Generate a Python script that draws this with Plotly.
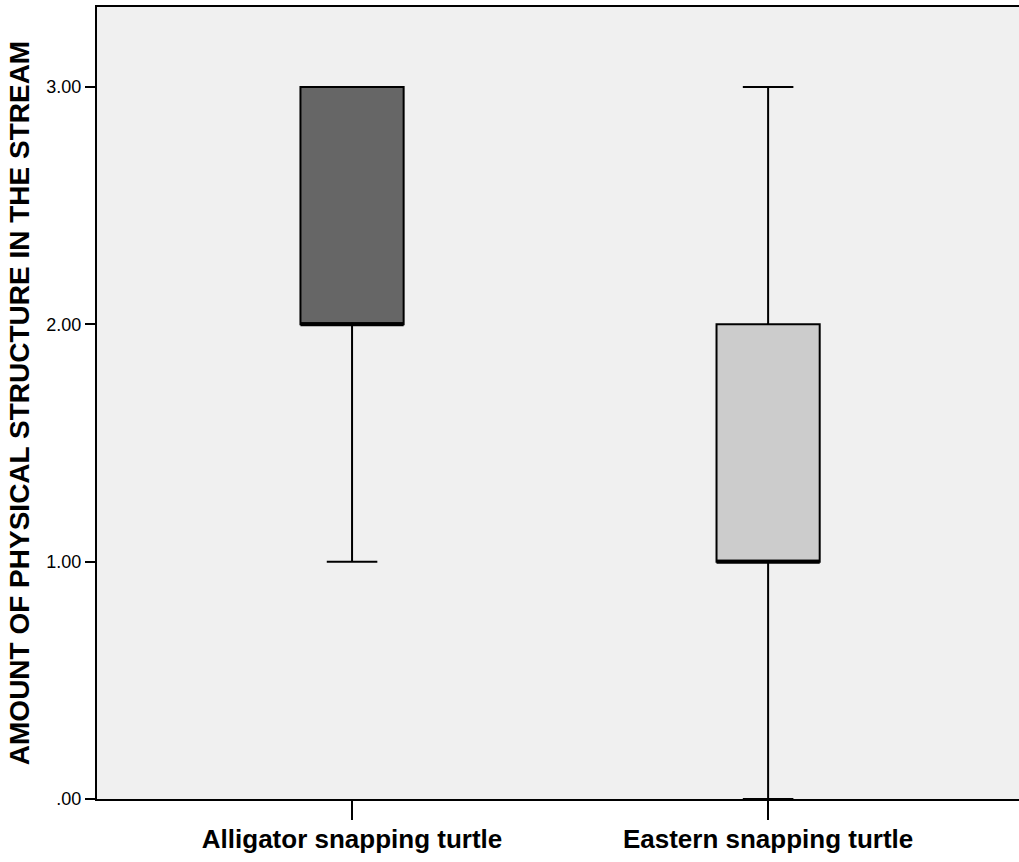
import plotly.graph_objects as go

categories = ["Alligator snapping turtle", "Eastern snapping turtle"]
q1 = [2.0, 1.0]
median = [2.0, 1.0]
q3 = [3.0, 2.0]
lower = [1.0, 0.0]
upper = [3.0, 3.0]
fills = ["#666666", "#cccccc"]
ytick_vals = [0, 1, 2, 3]
ytick_text = [".00", "1.00", "2.00", "3.00"]

BOX_W = 0.248
fig = go.Figure()
for i, cat in enumerate(categories):
    fig.add_trace(go.Box(
        x=[i], q1=[q1[i]], median=[median[i]], q3=[q3[i]],
        lowerfence=[lower[i]], upperfence=[upper[i]],
        width=BOX_W, whiskerwidth=0.49,
        fillcolor=fills[i], line=dict(color="black", width=2),
        boxpoints=False, showlegend=False, name=cat, hoverinfo="skip"))
    fig.add_trace(go.Scatter(
        x=[i - BOX_W / 2, i + BOX_W / 2], y=[median[i], median[i]],
        mode="lines", line=dict(color="black", width=4),
        showlegend=False, hoverinfo="skip"))

fig.update_layout(
    width=1019, height=862,
    margin=dict(l=97, r=0, t=7, b=63),
    paper_bgcolor="white", plot_bgcolor="#f0f0f0",
    font=dict(family="Arial, Liberation Sans, sans-serif", color="black"),
)
fig.update_xaxes(
    range=[-0.613, 1.603], tickvals=[0, 1], ticktext=categories,
    showgrid=False, zeroline=False, showline=True, linecolor="black", linewidth=2,
    mirror=True, ticks="outside", ticklen=19, tickwidth=2, tickcolor="black",
    ticklabelstandoff=-3,
    tickfont=dict(size=26, family="Arial, Liberation Sans, sans-serif", weight="bold"),
)
fig.update_yaxes(
    range=[0, 3.337], tickvals=ytick_vals, ticktext=ytick_text,
    showgrid=False, zeroline=False, showline=True, linecolor="black", linewidth=2,
    ticks="outside", ticklen=10, tickwidth=2, tickcolor="black",
    tickfont=dict(size=18, family="Arial, Liberation Sans, sans-serif"),
    title=dict(text="AMOUNT OF PHYSICAL STRUCTURE IN THE STREAM",
               font=dict(size=28, family="Arial, Liberation Sans, sans-serif", weight="bold"),
               standoff=9),
)
fig.write_html("out.html")
